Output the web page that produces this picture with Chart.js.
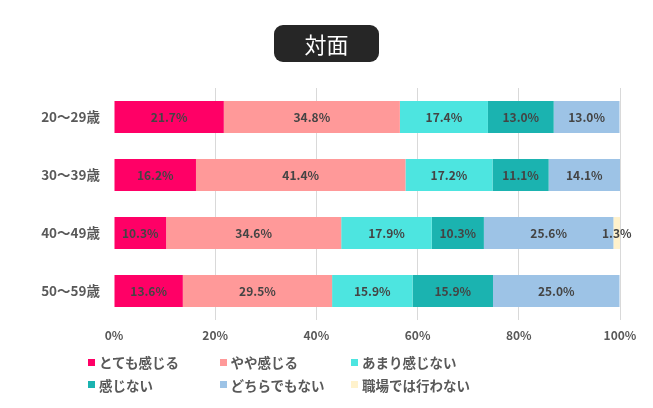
<!DOCTYPE html>
<html>
<head>
<meta charset="utf-8">
<script src="https://cdn.jsdelivr.net/npm/chart.js@4/dist/chart.umd.min.js"></script>
<style>
	body { margin: 0; background: #fff; font-family: 'Noto Sans CJK JP', sans-serif; }
	#wrap { position: relative; width: 653px; height: 408px; }
	#title {
		position: absolute; left: 274px; top: 25px; width: 105px; height: 37px;
		background: #262626; border-radius: 9px; color: #fff;
		font-size: 22px; line-height: 37px; text-align: center;
	}
	#legend {
		position: absolute; left: 88px; top: 351px;
		display: grid; grid-template-columns: 131.5px 131.5px 131.5px; grid-auto-rows: 22.5px;
	}
	#legend .item { display: flex; align-items: center; font-size: 13.5px; font-weight: bold; color: #595959; white-space: nowrap; }
	#legend .box { width: 7px; height: 7px; margin-right: 4px; }
</style>
</head>
<body>
<div id="wrap">
	<canvas id="myChart" width="653" height="408"></canvas>
	<div id="title">対面</div>
	<div id="legend"></div>
</div>
<script>
// age groups
var categories = ['20〜29歳', '30〜39歳', '40〜49歳', '50〜59歳'];

var seriesNames = ['とても感じる', 'やや感じる', 'あまり感じない', '感じない', 'どちらでもない', '職場では行わない'];
var seriesColors = ['#ff0066', '#ff9999', '#4de5e0', '#1bb3b0', '#9dc3e6', '#fff2cc'];

var veryMuch = [21.7, 16.2, 10.3, 13.6];
var somewhat = [34.8, 41.4, 34.6, 29.5];
var notMuch = [17.4, 17.2, 17.9, 15.9];
var notAtAll = [13.0, 11.1, 10.3, 15.9];
var neither = [13.0, 14.1, 25.6, 25.0];
var notDone = [0, 0, 1.3, 0];

var xTicks = [0, 20, 40, 60, 80, 100];

var seriesValues = [veryMuch, somewhat, notMuch, notAtAll, neither, notDone];

var datasets = [];
for (var i = 0; i < seriesNames.length; i++) {
	datasets.push({
		label: seriesNames[i],
		data: seriesValues[i],
		backgroundColor: seriesColors[i],
		borderWidth: 0,
		barPercentage: 0.55,
		categoryPercentage: 1
	});
}

// draw value labels in the middle of each segment
var barLabels = {
	id: 'barLabels',
	afterDatasetsDraw: function(chart) {
		var ctx = chart.ctx;
		ctx.save();
		ctx.font = 'bold 12px "Noto Sans CJK JP"';
		ctx.fillStyle = '#444';
		ctx.textAlign = 'center';
		ctx.textBaseline = 'middle';
		chart.data.datasets.forEach(function(ds, di) {
			var meta = chart.getDatasetMeta(di);
			meta.data.forEach(function(el, j) {
				var v = ds.data[j];
				if (!v) {
					return;
				}
				ctx.fillText(v.toFixed(1) + '%', (el.x + el.base) / 2, el.y);
			});
		});
		ctx.restore();
	}
};

var ctx = document.getElementById('myChart').getContext('2d');
var chart = new Chart(ctx, {
	type: 'bar',
	data: { labels: categories, datasets: datasets },
	plugins: [barLabels],
	options: {
		indexAxis: 'y',
		responsive: false,
		animation: false,
		layout: { padding: { top: 88, right: 33, bottom: 66, left: 0 } },
		plugins: {
			legend: { display: false },
			tooltip: { enabled: false }
		},
		scales: {
			x: {
				stacked: true,
				min: 0,
				max: 100,
				afterBuildTicks: function(scale) {
					scale.ticks = xTicks.map(function(v) { return { value: v }; });
				},
				afterFit: function(scale) { scale.height = 22; },
				grid: {
					color: function(c) { return c.index === 0 ? 'rgba(0,0,0,0)' : '#d9d9d9'; },
					drawTicks: false
				},
				border: { display: false },
				ticks: {
					padding: 8,
					color: '#595959',
					font: { family: 'Noto Sans CJK JP', size: 12, weight: 'bold' },
					callback: function(v) { return v + '%'; }
				}
			},
			y: {
				stacked: true,
				afterFit: function(scale) { scale.width = 114; },
				grid: { display: false, drawTicks: false },
				border: { display: false },
				ticks: {
					padding: 14,
					color: '#595959',
					font: { family: 'Noto Sans CJK JP', size: 13.5, weight: 'bold' }
				}
			}
		}
	}
});

// html legend in three columns
var legendEl = document.getElementById('legend');
var html = '';
for (var k = 0; k < seriesNames.length; k++) {
	html += '<div class="item"><span class="box" style="background:' + seriesColors[k] + '"></span>' + seriesNames[k] + '</div>';
}
legendEl.innerHTML = html;
</script>
</body>
</html>
